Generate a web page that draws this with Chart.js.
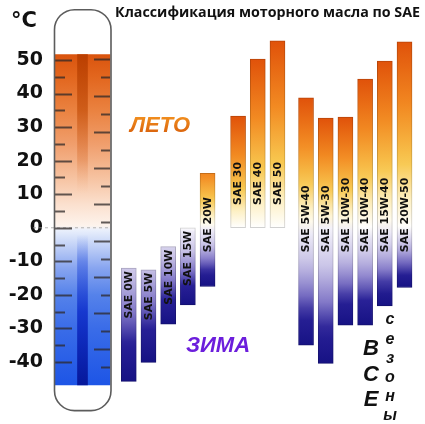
<!DOCTYPE html>
<html>
<head>
<meta charset="utf-8">
<script src="https://cdn.jsdelivr.net/npm/chart.js@4.4.1/dist/chart.umd.min.js"></script>
<style>
  html, body { margin: 0; padding: 0; background: #fff; }
  #wrap { width: 425px; height: 424px; }
</style>
</head>
<body>
<div id="wrap"><canvas id="saeChart"></canvas></div>
<script>
const chartTitle = "Классификация моторного масла по SAE";
const yTicks = [50, 40, 30, 20, 10, 0, -10, -20, -30, -40];

const winterGrades = ["SAE 0W", "SAE 5W", "SAE 10W", "SAE 15W", "SAE 20W"];
const winterLow = [-45.8, -40.1, -28.7, -23, -17.5];
const winterHigh = [-12, -12.5, -5.6, 0, 16.2];

const summerGrades = ["SAE 30", "SAE 40", "SAE 50"];
const summerLow = [0, 0, 0];
const summerHigh = [33.3, 50.3, 55.7];

const allGrades = ["SAE 5W-40", "SAE 5W-30", "SAE 10W-30", "SAE 10W-40", "SAE 15W-40", "SAE 20W-50"];
const allLow = [-35, -40.4, -29, -29, -23.3, -17.8];
const allHigh = [38.7, 32.7, 33, 44.3, 49.7, 55.4];

// thermometer
const thermoRange = [-46.8, 51.6];
const tubeRange = [-54.5, 65];
const celsiusMarks = [50, 45, 40, 35, 30, 25, 20, 15, 10, 5, 0, -5, -10, -15, -20, -25, -30, -35, -40];
const fahrenheitMarks = [50.2, 44.8, 39.4, 34, 28.6, 23.2, 17.8, 12.4, 7, 1.6, -3.8, -9.2, -14.6, -20, -25.4, -30.8, -36.2, -41.6];

// layout in x-axis slots
const thermoX = 1.65;
const winterStart = 4, summerStart = 9.55, allStart = 13;
const xMax = 19.04;

function place(start, low, high) {
  return low.map((lo, i) => ({ x: start + i, y: [lo, high[i]] }));
}

/* ---------- colours ---------- */
const warm = [[0, [255, 255, 255]], [0.15, [253, 240, 196]], [0.35, [248, 200, 80]], [0.65, [242, 138, 34]], [1, [224, 82, 10]]];
const cold = [[0, [244, 242, 250]], [0.3, [200, 194, 230]], [0.55, [130, 120, 200]], [0.75, [40, 32, 150]], [1, [22, 18, 132]]];

function mix(stops, t) {
  t = Math.max(0, Math.min(1, t));
  for (let i = 1; i < stops.length; i++) {
    if (t <= stops[i][0]) {
      const [t0, c0] = stops[i - 1];
      const [t1, c1] = stops[i];
      const k = (t - t0) / (t1 - t0);
      return c0.map((c, j) => c + (c1[j] - c) * k);
    }
  }
  return stops[stops.length - 1][1];
}

function gradeColor(v, lo, hi) {
  return v >= 0 ? mix(warm, v / Math.max(hi, 24)) : mix(cold, v / lo);
}

function gradeFill(dark) {
  return function (context) {
    const chart = context.chart;
    const raw = context.raw;
    if (!chart.chartArea || !raw) return "#ccc";
    const y = chart.scales.y;
    const [lo, hi] = raw.y;
    const g = chart.ctx.createLinearGradient(0, y.getPixelForValue(hi), 0, y.getPixelForValue(lo));
    for (let s = 0; s <= 20; s++) {
      const v = hi - (hi - lo) * s / 20;
      const c = gradeColor(v, lo, hi).map((x) => Math.round(x * dark));
      g.addColorStop(s / 20, `rgb(${c[0]},${c[1]},${c[2]})`);
    }
    return g;
  };
}

function valueGradient(stops) {
  return function (context) {
    const chart = context.chart;
    if (!chart.chartArea) return "#ccc";
    const y = chart.scales.y;
    const top = y.getPixelForValue(thermoRange[1]);
    const bot = y.getPixelForValue(thermoRange[0]);
    const g = chart.ctx.createLinearGradient(0, top, 0, bot);
    stops.forEach(([v, c]) => g.addColorStop((y.getPixelForValue(v) - top) / (bot - top), c));
    return g;
  };
}

const tubeStops = [
  [51.6, "#da540e"], [45, "#e2661e"], [35, "#ea8240"], [25, "#f09e6c"], [15, "#f6c2a0"],
  [7, "#fbe0ce"], [0.6, "#fdf3ec"], [-0.6, "#eaf0fc"], [-6, "#bccdf6"], [-12, "#88a5f0"],
  [-20, "#5582ea"], [-30, "#3a6ce8"], [-46.8, "#1d55e6"],
];
const stripeStops = [
  [51.6, "rgba(185,62,0,0.95)"], [35, "rgba(200,84,16,0.8)"], [20, "rgba(220,120,60,0.4)"],
  [10, "rgba(240,180,140,0)"], [-2, "rgba(60,100,230,0)"], [-10, "rgba(40,80,220,0.45)"],
  [-25, "rgba(10,40,200,0.8)"], [-46.8, "rgba(5,20,150,0.95)"],
];

/* ---------- drawing helpers ---------- */
const thermoPlugin = {
  id: "thermo",
  afterDatasetsDraw(chart) {
    const { ctx, scales: { y } } = chart;
    const tube = chart.getDatasetMeta(0).data[0];
    const left = tube.x - tube.width / 2;
    const right = tube.x + tube.width / 2;
    ctx.save();

    // dashed zero line
    ctx.strokeStyle = "rgba(150,150,150,0.7)";
    ctx.lineWidth = 1;
    ctx.setLineDash([3, 3]);
    ctx.beginPath();
    ctx.moveTo(33, y.getPixelForValue(0));
    ctx.lineTo(right, y.getPixelForValue(0));
    ctx.stroke();
    ctx.setLineDash([]);

    // scale marks
    ctx.strokeStyle = "rgba(45,40,40,0.75)";
    ctx.lineWidth = 2;
    celsiusMarks.forEach((v) => {
      const py = Math.round(y.getPixelForValue(v)) + 0.5;
      ctx.beginPath();
      ctx.moveTo(left, py);
      ctx.lineTo(left + (v % 10 === 0 ? 17 : 10), py);
      ctx.stroke();
    });
    fahrenheitMarks.forEach((v, i) => {
      const py = Math.round(y.getPixelForValue(v)) + 0.5;
      ctx.beginPath();
      ctx.moveTo(right, py);
      ctx.lineTo(right - (i % 2 === 0 ? 16 : 9), py);
      ctx.stroke();
    });

    // glass outline
    const top = y.getPixelForValue(tubeRange[1]);
    const bot = y.getPixelForValue(tubeRange[0]);
    ctx.strokeStyle = "#5c5c5c";
    ctx.lineWidth = 1.6;
    ctx.beginPath();
    ctx.roundRect(left - 0.5, top, right - left + 1.5, bot - top, 20);
    ctx.stroke();
    ctx.restore();
  },
};

const labelPlugin = {
  id: "gradeLabels",
  afterDatasetsDraw(chart) {
    const { ctx, scales: { y } } = chart;
    ctx.save();
    ctx.font = 'bold 11px "DejaVu Sans"';
    ctx.fillStyle = "#111";
    ctx.textBaseline = "middle";
    ctx.textAlign = "left";
    [[2, winterGrades, -7.3], [3, summerGrades, 6.8], [4, allGrades, -7.3]].forEach(([di, names, floor]) => {
      chart.getDatasetMeta(di).data.forEach((bar, i) => {
        const w = ctx.measureText(names[i]).width;
        const barTop = Math.min(bar.y, bar.base);
        const start = Math.max(y.getPixelForValue(floor), barTop + 3 + w);
        ctx.save();
        ctx.translate(bar.x + 0.5, start);
        ctx.rotate(-Math.PI / 2);
        ctx.fillText(names[i], 0, 0);
        ctx.restore();
      });
    });
    ctx.restore();
  },
};

const textPlugin = {
  id: "texts",
  afterDraw(chart) {
    const ctx = chart.ctx;
    ctx.save();
    ctx.textBaseline = "middle";
    ctx.fillStyle = "#111";

    // title, fitted to its width in the picture
    ctx.font = 'bold 14px "Open Sans"';
    const size = 14 * 305 / ctx.measureText(chartTitle).width;
    ctx.font = `bold ${size.toFixed(2)}px "Open Sans"`;
    ctx.textAlign = "right";
    ctx.fillText(chartTitle, 420, 13);

    ctx.textAlign = "center";
    ctx.font = 'bold 21px "DejaVu Sans"';
    ctx.fillText("°C", 24, 22);

    ctx.font = 'italic bold 22px "Liberation Sans"';
    const lg = ctx.createLinearGradient(0, 116, 0, 134);
    lg.addColorStop(0, "#f2901f");
    lg.addColorStop(1, "#d8600c");
    ctx.fillStyle = lg;
    ctx.fillText("ЛЕТО", 160, 126);

    ctx.fillStyle = "#6c1edc";
    ctx.fillText("ЗИМА", 218, 346);

    ctx.fillStyle = "#111";
    ctx.font = 'italic bold 22px "Liberation Sans"';
    [..."ВСЕ"].forEach((ch, i) => ctx.fillText(ch, 371, 349 + i * 25.5));
    ctx.font = 'italic bold 16px "Liberation Sans"';
    [..."сезоны"].forEach((ch, i) => ctx.fillText(ch, 390, 320 + i * 19.2));
    ctx.restore();
  },
};

const barDefaults = { grouped: false, borderSkipped: false };

new Chart(document.getElementById("saeChart"), {
  type: "bar",
  data: {
    datasets: [
      {
        ...barDefaults,
        label: "tube",
        order: 2,
        data: [{ x: thermoX, y: thermoRange }],
        barThickness: 55,
        backgroundColor: valueGradient(tubeStops),
      },
      {
        ...barDefaults,
        label: "stripe",
        order: 1,
        data: [{ x: thermoX, y: thermoRange }],
        barThickness: 10,
        backgroundColor: valueGradient(stripeStops),
      },
      {
        ...barDefaults,
        label: "winter",
        data: place(winterStart, winterLow, winterHigh),
        barThickness: 15,
        backgroundColor: gradeFill(1),
        borderColor: gradeFill(0.82),
        borderWidth: 1,
      },
      {
        ...barDefaults,
        label: "summer",
        data: place(summerStart, summerLow, summerHigh),
        barThickness: 15,
        backgroundColor: gradeFill(1),
        borderColor: gradeFill(0.82),
        borderWidth: 1,
      },
      {
        ...barDefaults,
        label: "all seasons",
        data: place(allStart, allLow, allHigh),
        barThickness: 15,
        backgroundColor: gradeFill(1),
        borderColor: gradeFill(0.82),
        borderWidth: 1,
      },
    ],
  },
  options: {
    responsive: true,
    maintainAspectRatio: false,
    animation: false,
    layout: { padding: 0 },
    plugins: {
      legend: { display: false },
      tooltip: { enabled: false },
    },
    scales: {
      x: {
        type: "linear",
        min: 0,
        max: xMax,
        offset: false,
        display: false,
      },
      y: {
        min: -53,
        max: 62.4,
        afterBuildTicks: (axis) => {
          axis.ticks = yTicks.map((v) => ({ value: v }));
        },
        afterFit: (axis) => {
          axis.width = 50;
        },
        grid: { display: false, drawTicks: false },
        border: { display: false },
        ticks: {
          padding: 7,
          color: "#111",
          font: { family: "DejaVu Sans", size: 19, weight: "bold" },
          callback: (v) => String(v),
        },
      },
    },
  },
  plugins: [thermoPlugin, labelPlugin, textPlugin],
});
</script>
</body>
</html>
